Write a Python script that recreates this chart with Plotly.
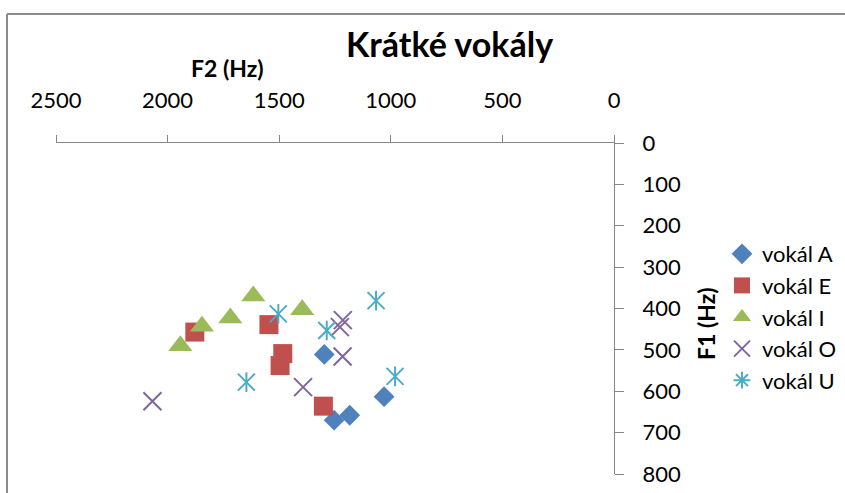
import plotly.graph_objects as go

# F2 (Hz) on x, F1 (Hz) on y
a_f2 = [1298, 1254, 1184, 1030]
a_f1 = [511, 670, 658, 613]

e_f2 = [1878, 1546, 1484, 1496, 1302]
e_f1 = [457, 439, 509, 538, 636]

i_f2 = [1616, 1397, 1719, 1846, 1943]
i_f1 = [370, 403, 423, 443, 490]

o_f2 = [2068, 1393, 1216, 1215, 1228]
o_f1 = [624, 590, 516, 428, 445]

u_f2 = [1504, 1066, 1287, 1647, 981]
u_f1 = [413, 381, 453, 578, 564]

names = ["vokál A", "vokál E", "vokál I", "vokál O", "vokál U"]
colors = ["#4F81BD", "#C0504D", "#9BBB59", "#8064A2", "#4BACC6"]

W, H = 845, 493
L, R, T, B = 56, 614, 143, 474  # plot area in pixels


def px(x):
    return (x - L) / (R - L)


def py(y):
    return (B - y) / (B - T)


FONT = "Lato"
fig = go.Figure()

fig.add_trace(go.Scatter(x=a_f2, y=a_f1, mode="markers", name=names[0],
                         marker=dict(symbol="diamond", size=16, color=colors[0])))
fig.add_trace(go.Scatter(x=e_f2, y=e_f1, mode="markers", name=names[1],
                         marker=dict(symbol="square", size=19, color=colors[1])))
fig.add_trace(go.Scatter(x=i_f2, y=i_f1, mode="markers", name=names[2],
                         marker=dict(symbol="triangle-up", size=21, color=colors[2])))
fig.add_trace(go.Scatter(x=o_f2, y=o_f1, mode="markers", name=names[3],
                         marker=dict(symbol="x-thin", size=18,
                                     line=dict(color=colors[3], width=2))))
# U: star made of X + vertical stroke
fig.add_trace(go.Scatter(x=u_f2, y=u_f1, mode="markers", name=names[4], showlegend=False,
                         marker=dict(symbol="x-thin", size=17,
                                     line=dict(color=colors[4], width=2))))
fig.add_trace(go.Scatter(x=u_f2, y=u_f1, mode="markers", name=names[4], showlegend=False,
                         marker=dict(symbol="line-ns", size=14,
                                     line=dict(color=colors[4], width=2))))
fig.add_trace(go.Scatter(x=[None], y=[None], mode="markers", name=names[4],
                         marker=dict(symbol="asterisk", size=14,
                                     line=dict(color=colors[4], width=2))))

axcol = "#868686"
border = dict(color="#8c8c8c", width=2)
fig.update_layout(
    width=W, height=H,
    margin=dict(l=L, r=W - R, t=T, b=H - B, pad=0, autoexpand=False),
    paper_bgcolor="white", plot_bgcolor="white",
    font=dict(family=FONT, size=22, color="black"),
    showlegend=True,
    legend=dict(x=px(722), y=py(233), xanchor="left", yanchor="top",
                font=dict(family=FONT, size=22, color="black"),
                itemsizing="trace", tracegroupgap=0, bgcolor="rgba(0,0,0,0)"),
    xaxis=dict(range=[2500, 0], side="top", tickmode="linear", tick0=0, dtick=500,
               showgrid=False, zeroline=False, showline=True, linecolor=axcol, linewidth=1.3,
               ticks="outside", ticklen=7, tickcolor=axcol, tickwidth=1.3, automargin=False,
               ticklabelstandoff=18, tickfont=dict(family=FONT, size=22, color="black")),
    yaxis=dict(range=[800, 0], side="right", tickmode="linear", tick0=0, dtick=100,
               showgrid=False, zeroline=False, showline=True, linecolor=axcol, linewidth=1.3,
               ticks="outside", ticklen=9, tickcolor=axcol, tickwidth=1.3, automargin=False,
               ticklabelstandoff=14, tickfont=dict(family=FONT, size=22, color="black")),
    shapes=[
        dict(type="line", xref="paper", yref="paper",
             x0=px(7), x1=px(7), y0=py(14), y1=py(520), line=border, layer="below"),
        dict(type="line", xref="paper", yref="paper",
             x0=px(7), x1=px(900), y0=py(14), y1=py(14), line=border, layer="below"),
    ],
    annotations=[
        dict(text="<b>Krátké vokály</b>", xref="paper", yref="paper", x=px(449), y=py(43),
             xanchor="center", yanchor="middle", showarrow=False,
             font=dict(family=FONT, size=34, color="black")),
        dict(text="<b>F2 (Hz)</b>", xref="paper", yref="paper", x=px(227), y=py(68),
             xanchor="center", yanchor="middle", showarrow=False,
             font=dict(family=FONT, size=23, color="black")),
        dict(text="<b>F1 (Hz)</b>", xref="paper", yref="paper", x=px(706), y=py(324),
             xanchor="center", yanchor="middle", showarrow=False, textangle=-90,
             font=dict(family=FONT, size=23, color="black")),
    ],
)

fig.write_html("out.html", config={"displayModeBar": False})
